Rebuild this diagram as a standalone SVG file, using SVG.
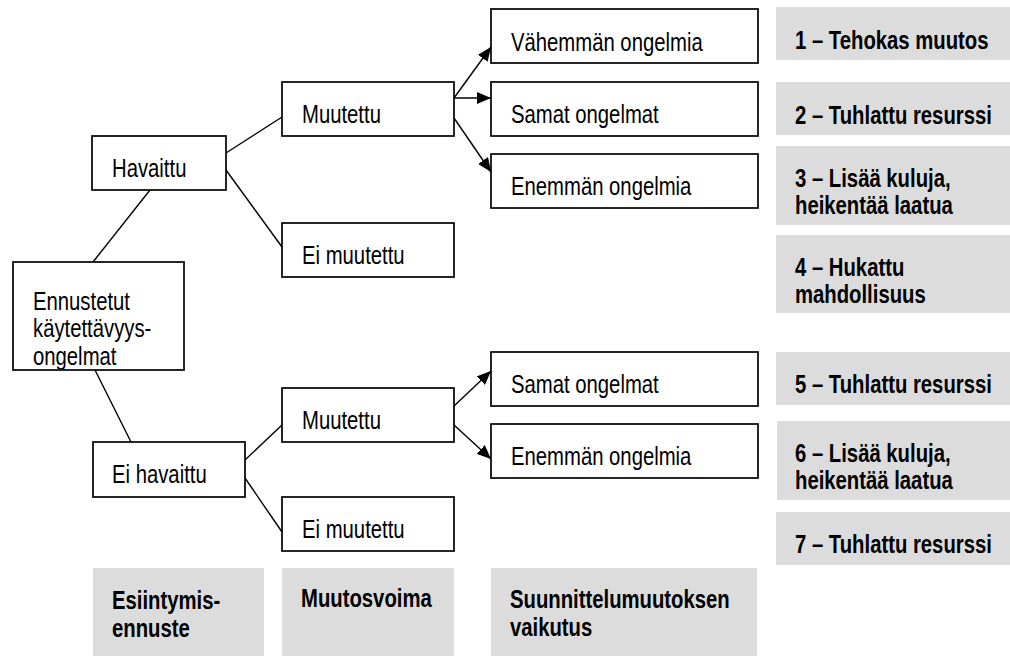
<svg xmlns="http://www.w3.org/2000/svg" width="1010" height="656" viewBox="0 0 1010 656">
<style>
.box{fill:#fff;stroke:#000;stroke-width:1.7}
.gray{fill:#dcdcdc;stroke:none}
.t{font-family:"Liberation Sans",Arial,sans-serif;font-size:20.3px;fill:#000}
.b{font-family:"Liberation Sans",Arial,sans-serif;font-size:20.3px;font-weight:bold;fill:#000}
.ln{stroke:#000;stroke-width:1.4;fill:none}
.ar{stroke:#000;stroke-width:1.4;fill:none;marker-end:url(#ah)}
</style>
<defs>
<marker id="ah" viewBox="0 0 14 12" refX="14" refY="6" markerWidth="14" markerHeight="12" markerUnits="userSpaceOnUse" orient="auto">
<path d="M0,0 L14,6 L0,12 z" fill="#000"/>
</marker>
<clipPath id="clipEnn"><rect x="13" y="262" width="171" height="107"/></clipPath>
</defs>
<rect width="1010" height="656" fill="#fff"/>

<g id="connectors">
<line class="ln" x1="150" y1="190" x2="93" y2="262"/>
<line class="ln" x1="95" y1="370" x2="131" y2="442"/>
<line class="ln" x1="226" y1="153" x2="282" y2="117"/>
<line class="ln" x1="226" y1="170" x2="282" y2="247"/>
<line class="ln" x1="245" y1="460" x2="282" y2="425"/>
<line class="ln" x1="245" y1="478" x2="282" y2="532"/>
<line class="ar" x1="454" y1="98" x2="491" y2="47"/>
<line class="ar" x1="454" y1="98" x2="491" y2="98"/>
<line class="ar" x1="454" y1="118" x2="491" y2="172"/>
<line class="ar" x1="454" y1="406" x2="491" y2="371"/>
<line class="ar" x1="454" y1="425" x2="491" y2="459"/>
</g>

<g id="ennustetut">
<rect class="box" x="13" y="262" width="171" height="108"/>
<g clip-path="url(#clipEnn)">
<text class="t" transform="translate(33,310) scale(1,1.28)"><tspan x="0" y="0">Ennustetut</tspan><tspan x="0" y="20.8">käytettävyys-</tspan><tspan x="0" y="42.8">ongelmat</tspan></text>
</g>
</g>
<g id="havaittu">
<rect class="box" x="92" y="136" width="134" height="54"/>
<text class="t" transform="translate(112,177) scale(1,1.28)">Havaittu</text>
</g>
<g id="ei-havaittu">
<rect class="box" x="93" y="442" width="152" height="55"/>
<text class="t" transform="translate(112,483) scale(1,1.28)">Ei havaittu</text>
</g>
<g id="muutettu-1">
<rect class="box" x="282" y="82" width="172" height="54"/>
<text class="t" transform="translate(302,123) scale(1,1.28)">Muutettu</text>
</g>
<g id="ei-muutettu-1">
<rect class="box" x="282" y="223" width="172" height="54"/>
<text class="t" transform="translate(302,264) scale(1,1.28)">Ei muutettu</text>
</g>
<g id="muutettu-2">
<rect class="box" x="282" y="388" width="172" height="54"/>
<text class="t" transform="translate(302,429) scale(1,1.28)">Muutettu</text>
</g>
<g id="ei-muutettu-2">
<rect class="box" x="282" y="497" width="172" height="54"/>
<text class="t" transform="translate(302,538) scale(1,1.28)">Ei muutettu</text>
</g>
<g id="vahemman-1">
<rect class="box" x="491" y="9" width="267" height="54"/>
<text class="t" transform="translate(511,51) scale(1,1.28)">Vähemmän ongelmia</text>
</g>
<g id="samat-1">
<rect class="box" x="491" y="82" width="267" height="54"/>
<text class="t" transform="translate(511,123) scale(1,1.28)">Samat ongelmat</text>
</g>
<g id="enemman-1">
<rect class="box" x="491" y="154" width="267" height="54"/>
<text class="t" transform="translate(511,195) scale(1,1.28)">Enemmän ongelmia</text>
</g>
<g id="samat-2">
<rect class="box" x="491" y="352" width="267" height="54"/>
<text class="t" transform="translate(511,393) scale(1,1.28)">Samat ongelmat</text>
</g>
<g id="enemman-2">
<rect class="box" x="491" y="424" width="267" height="54"/>
<text class="t" transform="translate(511,465) scale(1,1.28)">Enemmän ongelmia</text>
</g>

<g id="result-1">
<rect class="gray" x="776" y="7" width="234" height="53"/>
<text class="b" transform="translate(795,49) scale(1,1.28)">1 – Tehokas muutos</text>
</g>
<g id="result-2">
<rect class="gray" x="776" y="82" width="234" height="53"/>
<text class="b" transform="translate(795,124) scale(1,1.28)">2 – Tuhlattu resurssi</text>
</g>
<g id="result-3">
<rect class="gray" x="776" y="146" width="234" height="79"/>
<text class="b" transform="translate(795,187) scale(1,1.28)"><tspan x="0" y="0">3 – Lisää kuluja,</tspan><tspan x="0" y="21">heikentää laatua</tspan></text>
</g>
<g id="result-4">
<rect class="gray" x="776" y="235" width="234" height="78"/>
<text class="b" transform="translate(795,276) scale(1,1.28)"><tspan x="0" y="0">4 – Hukattu</tspan><tspan x="0" y="21">mahdollisuus</tspan></text>
</g>
<g id="result-5">
<rect class="gray" x="776" y="352" width="234" height="53"/>
<text class="b" transform="translate(795,393) scale(1,1.28)">5 – Tuhlattu resurssi</text>
</g>
<g id="result-6">
<rect class="gray" x="777" y="421" width="233" height="79"/>
<text class="b" transform="translate(795,462) scale(1,1.28)"><tspan x="0" y="0">6 – Lisää kuluja,</tspan><tspan x="0" y="21">heikentää laatua</tspan></text>
</g>
<g id="result-7">
<rect class="gray" x="776" y="512" width="234" height="53"/>
<text class="b" transform="translate(795,553) scale(1,1.28)">7 – Tuhlattu resurssi</text>
</g>

<g id="header-esiintymis">
<rect class="gray" x="93" y="568" width="171" height="88"/>
<text class="b" transform="translate(112,609) scale(1,1.28)"><tspan x="0" y="0">Esiintymis-</tspan><tspan x="0" y="22">ennuste</tspan></text>
</g>
<g id="header-muutosvoima">
<rect class="gray" x="282" y="568" width="172" height="88"/>
<text class="b" transform="translate(301,607) scale(1,1.28)">Muutosvoima</text>
</g>
<g id="header-vaikutus">
<rect class="gray" x="491" y="568" width="266" height="88"/>
<text class="b" transform="translate(510,608) scale(1,1.28)"><tspan x="0" y="0">Suunnittelumuutoksen</tspan><tspan x="0" y="22">vaikutus</tspan></text>
</g>
</svg>
